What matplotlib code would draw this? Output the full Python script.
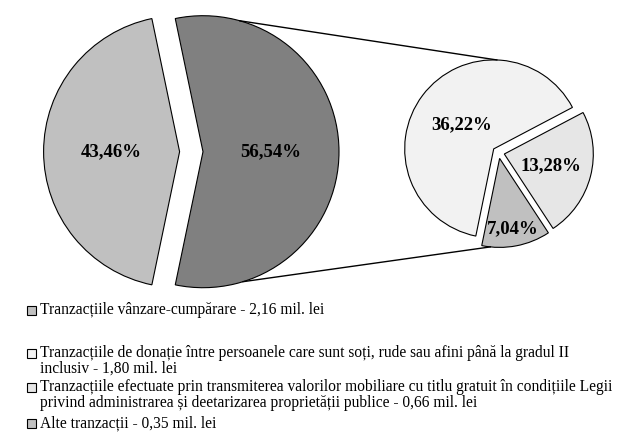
import matplotlib
matplotlib.use('Agg')
import matplotlib.pyplot as plt
import numpy as np
from matplotlib.patches import Rectangle

plt.rcParams['font.family'] = ['Liberation Serif', 'DejaVu Serif']

# ---------------- data ----------------
main_pct = [43.46, 56.54]            # main pie: vanzare-cumparare vs rest
sub_pct = [36.22, 13.28, 7.04]       # breakdown of the 56,54% slice
legend_labels = [
    'Tranzacțiile vânzare-cumpărare - 2,16 mil. lei',
    'Tranzacțiile de donație între persoanele care sunt soți, rude sau afini până la gradul II\ninclusiv - 1,80 mil. lei',
    'Tranzacțiile efectuate prin transmiterea valorilor mobiliare cu titlu gratuit în condițiile Legii\nprivind administrarea și deetarizarea proprietății publice - 0,66 mil. lei',
    'Alte tranzacții - 0,35 mil. lei',
]
amounts = [2.16, 1.80, 0.66, 0.35]   # mil. lei

# ---------------- styles ----------------
main_colors = ['#c0c0c0', '#808080']
sub_colors = ['#f2f2f2', '#e6e6e6', '#c0c0c0']
legend_colors = ['#c0c0c0', '#f2f2f2', '#e6e6e6', '#c0c0c0']

W, H = 622, 440
fig = plt.figure(figsize=(W / 100, H / 100), dpi=100)
ax = fig.add_axes([0, 0, 1, 1])


def fmt(p):
    return f'{p:.2f}%'.replace('.', ',')


edge = dict(edgecolor='black', linewidth=0.8)
lab = dict(fontsize=13.5, fontweight='bold', color='black')

main_center = (191.3, H - 151.7)
main_r = 136
main_start = 180 - main_pct[0] / sum(main_pct) * 360 / 2
w1, t1, a1 = ax.pie(main_pct, colors=main_colors, center=main_center, radius=main_r,
                    explode=[11.7, 11.7], startangle=main_start,
                    autopct=fmt, pctdistance=0.5, wedgeprops=edge, textprops=lab)

sub_center = (498.5, H - 152.5)
sub_r = 89
sub_total = sum(sub_pct)
w2, t2, a2 = ax.pie(sub_pct, colors=sub_colors, center=sub_center, radius=sub_r,
                    explode=[6.0] * 3, startangle=258.4, counterclock=False,
                    autopct=lambda p: fmt(p * sub_total / 100), pctdistance=0.5,
                    wedgeprops=edge, textprops=lab)

# place sub-pie labels at per-slice distances
dists = [0.45, 0.54, 0.8]
for w, t, d in zip(w2, a2, dists):
    th = np.deg2rad((w.theta1 + w.theta2) / 2)
    cx, cy = w.center
    t.set_position((cx + d * w.r * np.cos(th), cy + d * w.r * np.sin(th)))


def pt(w, ang):
    cx, cy = w.center
    a = np.deg2rad(ang)
    return cx + w.r * np.cos(a), cy + w.r * np.sin(a)


# connector lines
p1 = pt(w1[1], 74.3)
q1 = pt(w2[0], 88)
p2 = pt(w1[1], -72.9)
q2 = pt(w2[2], 264)
ax.plot([p1[0], q1[0]], [p1[1], q1[1]], color='black', lw=1.0)
ax.plot([p2[0], q2[0]], [p2[1], q2[1]], color='black', lw=1.0)

# legend
sq_y = [310, 353, 387, 423]
txt_y = [310, 361, 395, 423]
for lbl, col, sy, ty in zip(legend_labels, legend_colors, sq_y, txt_y):
    ax.add_patch(Rectangle((27, H - sy - 4.5), 9, 9, facecolor=col, edgecolor='black', lw=0.8))
    ax.text(40, H - ty, lbl, va='center', ha='left', fontsize=11.2, linespacing=1.0)

ax.set_xlim(0, W)
ax.set_ylim(0, H)
ax.set_aspect('equal')
ax.set_axis_off()

fig.savefig('out.png', dpi=100)
